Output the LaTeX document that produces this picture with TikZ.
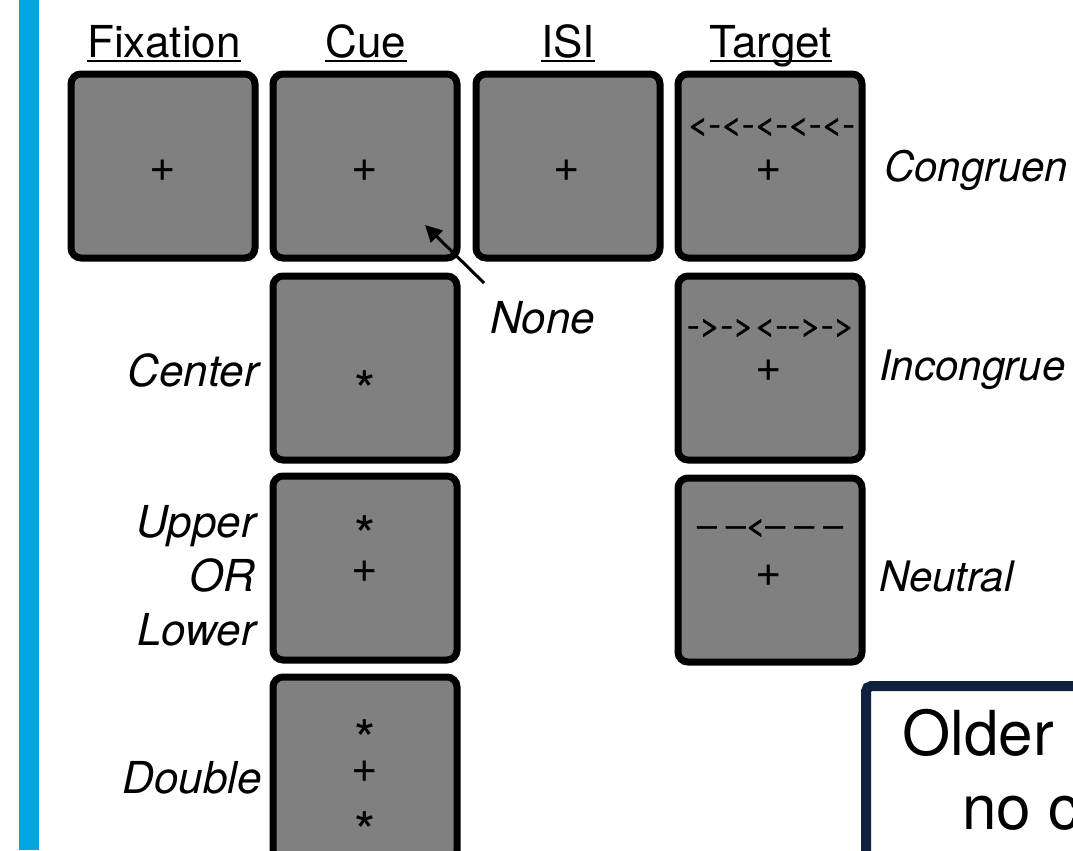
\documentclass[tikz,border=0pt]{standalone}
\usepackage{fontspec}
\usepackage{graphicx}
\setmainfont{TeX Gyre Heros}
\newfontfamily\flankfont[FakeBold=2.5]{TeX Gyre Heros}
\usetikzlibrary{arrows.meta,calc}
\definecolor{cyanbar}{RGB}{0,166,226}
\definecolor{navy}{RGB}{16,33,63}
\definecolor{boxgray}{RGB}{128,128,128}
\begin{document}
\begin{tikzpicture}[x=0.75pt,y=-0.75pt,
  trial/.style={draw=black, fill=boxgray, line width=5.25pt, rounded corners=7.5pt,
    minimum width=138pt, minimum height=138pt, inner sep=0pt},
  head/.style={font=\fontsize{33}{38}\selectfont, inner sep=0pt, anchor=base},
  ul/.style={line width=1.5pt},
  lab/.style={font=\fontsize{33}{40.5}\selectfont\itshape, inner sep=0pt},
  rlab/.style={font=\fontsize{31.5}{40.5}\selectfont\itshape, inner sep=0pt},
  plus/.style={font=\fontsize{34}{34}\selectfont, inner sep=0pt, anchor=base},
  star/.style={font=\fontsize{41}{41}\selectfont, inner sep=0pt, anchor=base},
  flank/.style={font=\flankfont\fontsize{20}{20}\selectfont, inner sep=0pt},
  big/.style={font=\fontsize{46.5}{50}\selectfont, inner sep=0pt, anchor=base west},
]
\useasboundingbox (0,0) rectangle (1073,850);
\clip (0,0) rectangle (1073,850);

% left bar
\fill[cyanbar] (19,0) rectangle (39,850);

% headers
\node[head] (hfix) at (164,57) {Fixation};
\node[head] (hcue) at (366,57) {Cue};
\node[head] (hisi) at (568,57) {ISI};
\node[head] (htgt) at (771,57) {Target};
\foreach \h in {hfix,hcue,hisi,htgt}
  \draw[ul] ($(\h.base west)+(0,4)$) -- ($(\h.base east)+(0,4)$);

% trial boxes
\node[trial] (fix1) at (163,166) {};
\node[trial] (cue1) at (365,166) {};
\node[trial] (isi1) at (568,166) {};
\node[trial] (tgt1) at (770,166) {};
\node[trial] (cue2) at (365,368) {};
\node[trial] (tgt2) at (770,368) {};
\node[trial] (cue3) at (365,568) {};
\node[trial] (tgt3) at (770,570) {};
\node[trial] (cue4) at (365,769) {};

% box contents
\node[plus] (p1) at (163,181) {+};
\node[plus] (p2) at (365,181) {+};
\node[plus] (p3) at (567,181) {+};
\node[plus] (p4) at (769,181) {+};
\node[plus] (p5) at (769,381) {+};
\node[plus] (p6) at (769,586) {+};
\node[plus] (p7) at (365,582) {+};
\node[plus] (p8) at (365,782) {+};
\node[star] (s1) at (365,410) {*};
\node[star] (s2) at (365,555) {*};
\node[star] (s3) at (365,759) {*};
\node[star] (s4) at (365,851) {*};
\node[flank] (f1) at (771,127) {\scalebox{1.37}[1]{<-<-<-<-<-}};
\node[flank] (f2) at (771,328) {\scalebox{1.37}[1]{->-><-{}->->}};
\node[flank] (f3) at (770,528) {\scalebox{1.3}[1]{– –<– – –}};

% cue labels
\node[lab, anchor=east] (lcenter) at (259,370) {Center};
\node[lab, anchor=east, align=right] (lupper) at (256,576) {Upper\\OR\\Lower};
\node[lab, anchor=east] (ldouble) at (262,778) {Double};
\node[lab, anchor=west] (lnone) at (490,318) {None};
\coordinate (nonetail) at (484,283);
\coordinate (nonetip) at (425,225);
\draw[line width=2.25pt, -{Triangle[length=12.5pt,width=12.5pt]}] (nonetail) -- (nonetip);

% target labels
\node[rlab, anchor=west] (lcong) at (884,170) {Congruen};
\node[rlab, anchor=west] (lincong) at (879,370) {Incongrue};
\node[rlab, anchor=west] (lneut) at (879,576) {Neutral};

% older box
\draw[navy, line width=7.5pt, fill=white, rounded corners=4pt] (866,686) rectangle (1160,960);
\node[big] (older) at (902,755) {Older};
\node[big] (nocue) at (962,829) {no c};
\end{tikzpicture}
\end{document}
